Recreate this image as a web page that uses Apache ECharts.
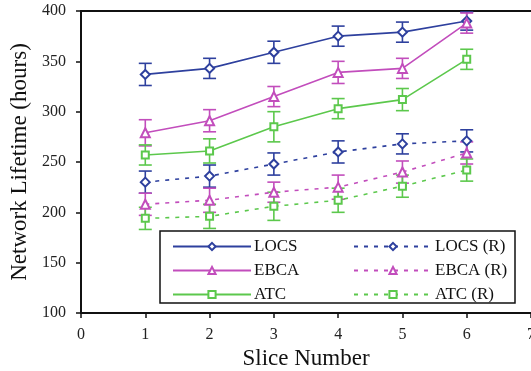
<!DOCTYPE html>
<html><head><meta charset="utf-8">
<script src="https://cdn.jsdelivr.net/npm/echarts@6/dist/echarts.min.js"></script>
<style>html,body{margin:0;padding:0;background:#fff}#c{width:531px;height:371px}</style>
</head><body><div id="c"></div>
<script>
const slices = [1, 2, 3, 4, 5, 6];
const xTicks = [0, 1, 2, 3, 4, 5, 6, 7];
const yTicks = [100, 150, 200, 250, 300, 350, 400];
const locs = [337, 343, 359, 375, 379, 390];
const locsErr = [11, 10, 11, 10, 10, 9];
const ebca = [279, 291, 315, 339, 343, 388];
const ebcaErr = [13, 11, 10, 11, 10, 10];
const atc = [257, 261, 285, 303, 312, 352];
const atcErr = [10, 12, 15, 10, 11, 10];
const locsR = [230, 236, 248, 260, 268, 271];
const locsRErr = [11, 11, 11, 11, 10, 11];
const ebcaR = [208, 212, 220, 225, 240, 259];
const ebcaRErr = [11, 12, 10, 12, 11, 11];
const atcR = [194, 196, 206, 212, 226, 242];
const atcRErr = [11, 12, 14, 12, 11, 11];

const BLUE = '#2E409E', MAG = '#C24DBC', GRN = '#5CC84C';
const font = 'Liberation Serif';
const symSize = {emptyDiamond: 9, emptyTriangle: 9, emptyRect: 7};

function lineSeries(name, vals, color, symbol, dashed) {
  return {
    name, type: 'line', data: slices.map((x, i) => [x, vals[i]]),
    symbol, symbolSize: symSize[symbol],
    lineStyle: {color, width: 1.6, type: dashed ? [4, 6] : 'solid'},
    itemStyle: {color, borderWidth: 1.5},
    z: 3
  };
}
function errSeries(vals, errs, color) {
  return {
    type: 'custom', z: 2,
    data: slices.map((x, i) => [x, vals[i] - errs[i], vals[i] + errs[i]]),
    renderItem: function (params, api) {
      const lo = api.coord([api.value(0), api.value(1)]);
      const hi = api.coord([api.value(0), api.value(2)]);
      const w = 6.5;
      const st = {stroke: color, lineWidth: 1.6};
      return {type: 'group', children: [
        {type: 'line', shape: {x1: lo[0], y1: lo[1], x2: hi[0], y2: hi[1]}, style: st},
        {type: 'line', shape: {x1: lo[0] - w, y1: lo[1], x2: lo[0] + w, y2: lo[1]}, style: st},
        {type: 'line', shape: {x1: hi[0] - w, y1: hi[1], x2: hi[0] + w, y2: hi[1]}, style: st}
      ]};
    },
    silent: true
  };
}

const legendText = {fontFamily: font, fontSize: 17, lineHeight: 16, color: '#111', padding: [0, 0, 0, -2]};
const chart = echarts.init(document.getElementById('c'));
chart.setOption({
  animation: false,
  textStyle: {fontFamily: font},
  grid: {left: 81, top: 11, right: 0, bottom: 58, containLabel: false, outerBoundsMode: 'none'},
  xAxis: [{
    type: 'value', min: xTicks[0], max: xTicks[xTicks.length - 1], interval: 1,
    name: 'Slice Number', nameLocation: 'middle', nameGap: 25,
    nameTextStyle: {fontFamily: font, fontSize: 23, color: '#111'},
    axisLine: {lineStyle: {color: '#111', width: 2}},
    axisTick: {show: true, length: 5, lineStyle: {color: '#111', width: 1.5}},
    axisLabel: {fontFamily: font, fontSize: 16, color: '#222', margin: 14},
    splitLine: {show: false}
  }, {
    type: 'value', position: 'top', min: 0, max: 7,
    axisLine: {show: true, onZero: false, lineStyle: {color: '#111', width: 2}},
    axisTick: {show: false}, axisLabel: {show: false}, splitLine: {show: false}
  }],
  yAxis: {
    type: 'value', min: yTicks[0], max: yTicks[yTicks.length - 1], interval: 50,
    name: 'Network Lifetime (hours)', nameLocation: 'middle', nameGap: 48,
    nameTextStyle: {fontFamily: font, fontSize: 23, color: '#111'},
    axisLine: {show: true, lineStyle: {color: '#111', width: 2}},
    axisTick: {show: true, length: 5, lineStyle: {color: '#111', width: 1.5}},
    axisLabel: {fontFamily: font, fontSize: 16, color: '#222', margin: 15},
    splitLine: {show: false}
  },
  graphic: [{
    type: 'rect', z: 5, shape: {x: 160, y: 231, width: 355, height: 72},
    style: {fill: '#fff', stroke: '#111', lineWidth: 1.5}
  }],
  legend: [{
    data: ['LOCS', 'EBCA', 'ATC'], orient: 'vertical', left: 167, top: 233,
    itemWidth: 78, itemHeight: 9, itemGap: 7, z: 6,
    textStyle: legendText
  }, {
    data: ['LOCS (R)', 'EBCA (R)', 'ATC (R)'], orient: 'vertical', left: 348, top: 233,
    itemWidth: 78, itemHeight: 9, itemGap: 7, z: 6,
    textStyle: legendText
  }],
  series: [
    errSeries(locs, locsErr, BLUE), errSeries(ebca, ebcaErr, MAG), errSeries(atc, atcErr, GRN),
    errSeries(locsR, locsRErr, BLUE), errSeries(ebcaR, ebcaRErr, MAG), errSeries(atcR, atcRErr, GRN),
    lineSeries('LOCS', locs, BLUE, 'emptyDiamond', false),
    lineSeries('EBCA', ebca, MAG, 'emptyTriangle', false),
    lineSeries('ATC', atc, GRN, 'emptyRect', false),
    lineSeries('LOCS (R)', locsR, BLUE, 'emptyDiamond', true),
    lineSeries('EBCA (R)', ebcaR, MAG, 'emptyTriangle', true),
    lineSeries('ATC (R)', atcR, GRN, 'emptyRect', true)
  ]
});
</script></body></html>
